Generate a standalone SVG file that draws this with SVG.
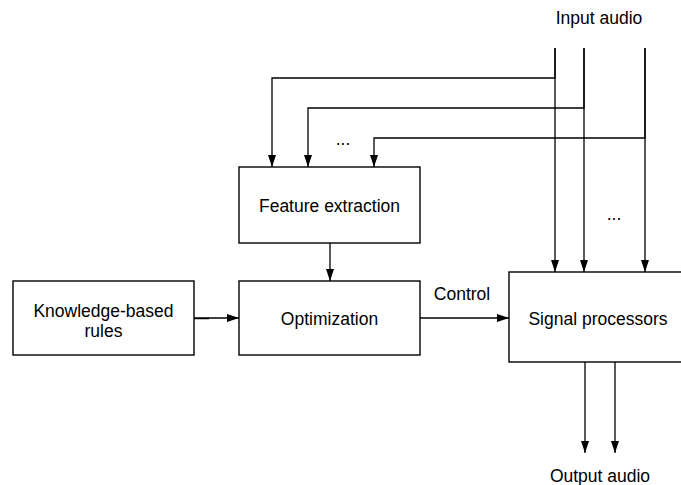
<svg xmlns="http://www.w3.org/2000/svg" width="681" height="485" viewBox="0 0 681 485">
  <style>
    .box { fill: #ffffff; stroke: #000000; stroke-width: 1.4; }
    .wire { fill: none; stroke: #000000; stroke-width: 1.3; }
    .lbl { font-family: "Liberation Sans", Arial, sans-serif; font-size: 17.5px; fill: #000000; text-anchor: middle; }
  </style>
  <defs>
    <marker id="arrow" viewBox="0 0 12 8" refX="12" refY="4" markerWidth="12" markerHeight="8" markerUnits="userSpaceOnUse" orient="auto">
      <path d="M0,0 L12,4 L0,8 Z" fill="#000000"/>
    </marker>
  </defs>
  <rect width="681" height="485" fill="#ffffff"/>

  <g id="connectors">
    <!-- audio taps into feature extraction -->
    <path class="wire" d="M555,48 V78 H272 V167" marker-end="url(#arrow)"/>
    <path class="wire" d="M584,48 V108 H308 V167" marker-end="url(#arrow)"/>
    <path class="wire" d="M645,48 V138 H374 V167" marker-end="url(#arrow)"/>
    <!-- audio into signal processors -->
    <path class="wire" d="M555,48 V272" marker-end="url(#arrow)"/>
    <path class="wire" d="M584,48 V272" marker-end="url(#arrow)"/>
    <path class="wire" d="M645,48 V272" marker-end="url(#arrow)"/>
    <!-- feature extraction to optimization -->
    <path class="wire" d="M330,243 V281" marker-end="url(#arrow)"/>
    <!-- rules to optimization (doubled stub at the source) -->
    <path class="wire" d="M194,318 H239" marker-end="url(#arrow)"/>
    <path class="wire" d="M194,318.6 H209" stroke-width="1.6"/>
    <!-- control to signal processors -->
    <path class="wire" d="M420,318 H509" marker-end="url(#arrow)"/>
    <!-- outputs -->
    <path class="wire" d="M585,362 V453" marker-end="url(#arrow)"/>
    <path class="wire" d="M615,362 V453" marker-end="url(#arrow)"/>
    <text class="lbl" x="462" y="300">Control</text>
    <text class="lbl" x="343" y="145">...</text>
    <text class="lbl" x="614" y="220">...</text>
  </g>

  <g id="input-audio">
    <text class="lbl" x="599" y="24">Input audio</text>
  </g>
  <g id="output-audio">
    <text class="lbl" x="600" y="482">Output audio</text>
  </g>

  <g id="feature-extraction">
    <rect class="box" x="239" y="167" width="181" height="76"/>
    <text class="lbl" x="329.5" y="212">Feature extraction</text>
  </g>

  <g id="knowledge-rules">
    <rect class="box" x="13" y="281" width="181" height="74"/>
    <text class="lbl" x="103.5" y="317">Knowledge-based</text>
    <text class="lbl" x="103.5" y="337">rules</text>
  </g>

  <g id="optimization">
    <rect class="box" x="239" y="281" width="181" height="74"/>
    <text class="lbl" x="329.5" y="325">Optimization</text>
  </g>

  <g id="signal-processors">
    <rect class="box" x="509" y="272" width="190" height="90"/>
    <text class="lbl" x="598" y="325">Signal processors</text>
  </g>
</svg>
